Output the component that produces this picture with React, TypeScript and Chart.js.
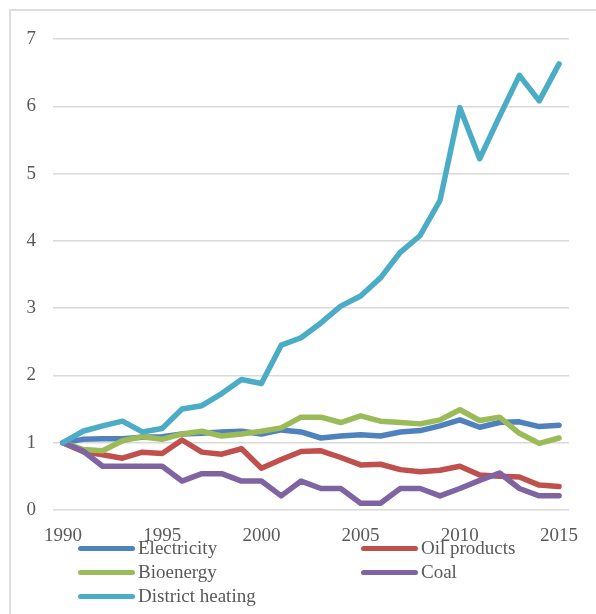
import React, { useEffect, useRef } from "react";
import { Chart, registerables } from "chart.js";

Chart.register(...registerables);

const years = [
  "1990", "1991", "1992", "1993", "1994", "1995", "1996", "1997", "1998", "1999",
  "2000", "2001", "2002", "2003", "2004", "2005", "2006", "2007", "2008", "2009",
  "2010", "2011", "2012", "2013", "2014", "2015",
];

const electricity = [
  1.0, 1.05, 1.06, 1.06, 1.08, 1.09, 1.13, 1.14, 1.16, 1.17,
  1.13, 1.19, 1.16, 1.07, 1.1, 1.12, 1.1, 1.16, 1.18, 1.25,
  1.34, 1.23, 1.3, 1.31, 1.24, 1.26,
];

const oilProducts = [
  1.0, 0.87, 0.82, 0.77, 0.86, 0.84, 1.04, 0.86, 0.83, 0.91,
  0.62, 0.75, 0.87, 0.88, 0.78, 0.67, 0.68, 0.6, 0.57, 0.59,
  0.65, 0.52, 0.5, 0.49, 0.37, 0.35,
];

const bioenergy = [
  1.0, 0.9, 0.88, 1.03, 1.09, 1.05, 1.13, 1.17, 1.1, 1.13,
  1.17, 1.22, 1.38, 1.38, 1.3, 1.4, 1.32, 1.3, 1.28, 1.34,
  1.49, 1.33, 1.38, 1.14, 0.99, 1.07,
];

const coal = [
  1.0, 0.88, 0.65, 0.65, 0.65, 0.65, 0.43, 0.54, 0.54, 0.43,
  0.43, 0.21, 0.43, 0.32, 0.32, 0.1, 0.1, 0.32, 0.32, 0.21,
  0.32, 0.44, 0.55, 0.32, 0.21, 0.21,
];

const districtHeating = [
  1.0, 1.17, 1.25, 1.32, 1.16, 1.21, 1.5, 1.55, 1.73, 1.94,
  1.88, 2.45, 2.56, 2.78, 3.03, 3.18, 3.45, 3.83, 4.08, 4.6,
  5.98, 5.22, 5.85, 6.46, 6.08, 6.63,
];

const seriesNames = ["Electricity", "Oil products", "Bioenergy", "Coal", "District heating"];
const seriesColors = ["#4F81BD", "#C0504D", "#9BBB59", "#8064A2", "#4BACC6"];
const seriesData = [electricity, oilProducts, bioenergy, coal, districtHeating];

const FONT = "'Liberation Serif', 'DejaVu Serif', serif";
const TEXT_COLOR = "#595959";

const legendPos = [
  { left: 78, top: 548 },
  { left: 361, top: 548 },
  { left: 78, top: 572 },
  { left: 361, top: 572 },
  { left: 78, top: 596 },
];

export default function App() {
  const canvasRef = useRef<HTMLCanvasElement | null>(null);

  useEffect(() => {
    document.body.style.overflow = "hidden";
    const canvas = canvasRef.current;
    if (!canvas) return;
    const chart = new Chart(canvas, {
      type: "line",
      data: {
        labels: years,
        datasets: seriesData.map((d, i) => ({
          label: seriesNames[i],
          data: d,
          borderColor: seriesColors[i],
          backgroundColor: seriesColors[i],
          borderWidth: 5.5,
          borderCapStyle: "round" as const,
          borderJoinStyle: "round" as const,
          pointRadius: 0,
          pointHoverRadius: 0,
          tension: 0,
          fill: false,
          order: seriesData.length - i,
        })),
      },
      options: {
        animation: false,
        responsive: false,
        maintainAspectRatio: false,
        layout: { padding: { left: 0, top: 39, right: 27, bottom: 64 } },
        plugins: {
          legend: { display: false },
          tooltip: { enabled: false },
        },
        scales: {
          x: {
            type: "category",
            offset: true,
            grid: { display: false, drawTicks: false },
            border: { display: false },
            afterFit: (scale: any) => {
              scale.height = 40;
            },
            ticks: {
              autoSkip: false,
              maxRotation: 0,
              padding: 15,
              color: TEXT_COLOR,
              font: { family: FONT, size: 19 },
              callback: function (this: any, _v: any, index: number) {
                const y = years[index];
                return Number(y) % 5 === 0 ? y : "";
              },
            },
          },
          y: {
            min: 0,
            max: 7,
            grid: { color: "#D9D9D9", lineWidth: 1.5, drawTicks: false },
            border: { display: false },
            afterFit: (scale: any) => {
              scale.width = 53;
            },
            ticks: {
              stepSize: 1,
              padding: 17,
              color: TEXT_COLOR,
              font: { family: FONT, size: 19 },
            },
          },
        },
      },
    });
    return () => chart.destroy();
  }, []);

  return (
    <div
      style={{
        position: "fixed",
        left: 0,
        top: 0,
        width: 596,
        height: 614,
        overflow: "hidden",
        background: "#fff",
      }}
    >
      <div
        style={{
          position: "absolute",
          left: 9,
          top: 9,
          width: 700,
          height: 700,
          border: "2px solid #DEDEDE",
          boxSizing: "border-box",
        }}
      />
      <canvas
        ref={canvasRef}
        width={596}
        height={614}
        style={{ position: "absolute", left: 0, top: 0, width: 596, height: 614 }}
      />
      {seriesNames.map((name, i) => (
        <div
          key={name}
          style={{
            position: "absolute",
            left: legendPos[i].left,
            top: legendPos[i].top - 12,
            height: 24,
            display: "flex",
            alignItems: "center",
            fontFamily: FONT,
            fontSize: 19,
            color: TEXT_COLOR,
            whiteSpace: "nowrap",
          }}
        >
          <span
            style={{
              display: "inline-block",
              width: 57,
              height: 5,
              borderRadius: 3,
              background: seriesColors[i],
              marginRight: 3,
            }}
          />
          <span>{name}</span>
        </div>
      ))}
    </div>
  );
}
